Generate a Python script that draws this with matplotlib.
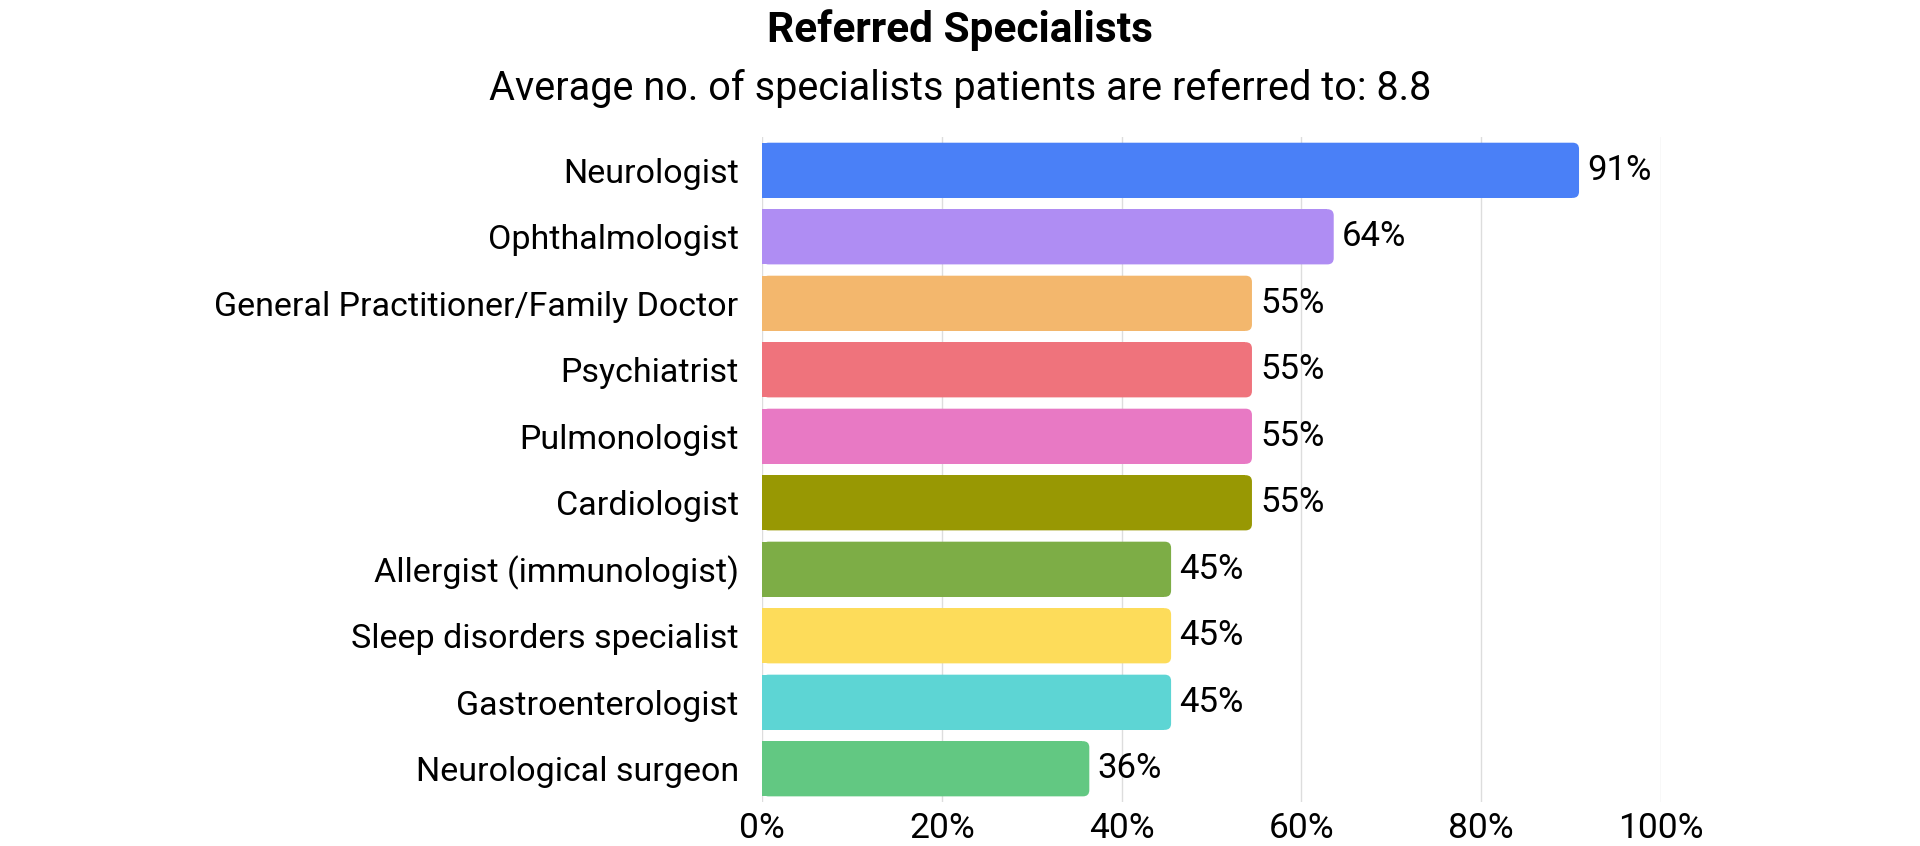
import matplotlib
matplotlib.use("Agg")
from matplotlib import pyplot as plt
from matplotlib.patches import FancyBboxPatch

plt.rcParams['font.family'] = ['Roboto', 'DejaVu Sans']

# data
specialists = ['Neurologist', 'Ophthalmologist', 'General Practitioner/Family Doctor',
               'Psychiatrist', 'Pulmonologist', 'Cardiologist', 'Allergist (immunologist)',
               'Sleep disorders specialist', 'Gastroenterologist', 'Neurological surgeon']
percent = [90.9, 63.6, 54.5, 54.5, 54.5, 54.5, 45.5, 45.5, 45.5, 36.4]
value_labels = ['91%', '64%', '55%', '55%', '55%', '55%', '45%', '45%', '45%', '36%']
colors = ['#4A80F7', '#AF8DF3', '#F3B76D', '#EF737C', '#E879C4',
          '#989803', '#7DAD46', '#FDDC5A', '#5DD5D4', '#62C882']
ticks = [0, 20, 40, 60, 80, 100]

fig = plt.figure(figsize=(19.2, 8.46), dpi=100)
ax = fig.add_axes([0.397, 0.052, 0.468, 0.786])

y = list(range(len(specialists)))
# square body, rounded right end drawn under it
bars = ax.barh(y, [v - 0.8 for v in percent], height=0.83, color=colors, zorder=3)
for b, v, c in zip(bars, percent, colors):
    ax.add_patch(FancyBboxPatch((0, b.get_y()), v, b.get_height(),
                                boxstyle='round,pad=0,rounding_size=0.7',
                                mutation_aspect=0.135, facecolor=c,
                                edgecolor='none', zorder=2.9))

ax.set_xlim(0, 100)
ax.set_ylim(len(specialists) - 0.5, -0.5)
ax.set_yticks(y)
ax.set_yticklabels(specialists, fontsize=24.5)
ax.set_xticks(ticks)
ax.set_xticklabels([str(t) + '%' for t in ticks], fontsize=25.5)
ax.tick_params(length=0)
ax.tick_params(axis='y', pad=17)
ax.tick_params(axis='x', pad=7)
ax.grid(axis='x', color='#dddddd', linewidth=1, zorder=0)
for s in ax.spines.values():
    s.set_visible(False)

for b, v, lab in zip(bars, percent, value_labels):
    ax.text(v + 0.9, b.get_y() + b.get_height() / 2, lab,
            va='center', ha='left', fontsize=25)

fig.text(0.5, 0.965, 'Referred Specialists', ha='center', va='center',
         fontsize=30.5, fontweight='bold')
fig.text(0.5, 0.895, 'Average no. of specialists patients are referred to: 8.8',
         ha='center', va='center', fontsize=28.5)

fig.savefig('out.png', dpi=100)
